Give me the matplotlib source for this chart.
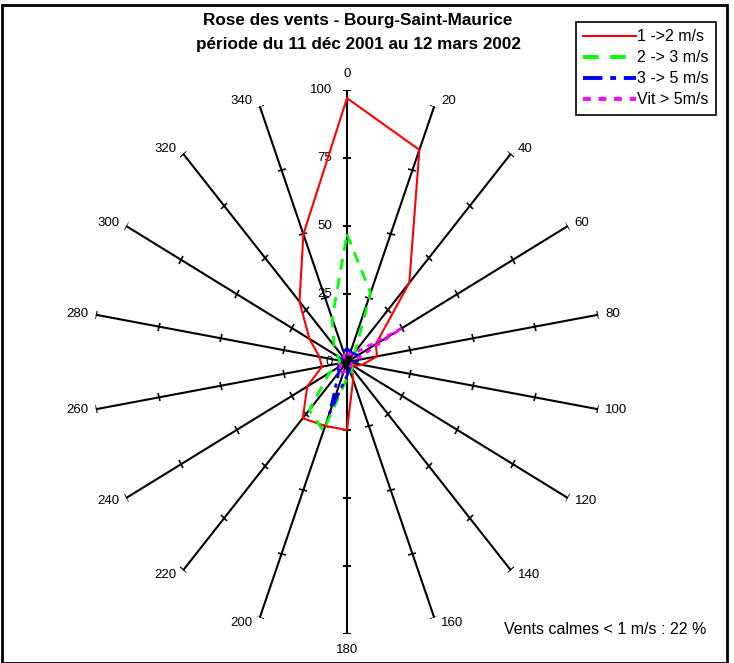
import numpy as np
import matplotlib
matplotlib.use('Agg')
from matplotlib import pyplot as plt
from matplotlib.markers import MarkerStyle
from matplotlib.transforms import Affine2D
from matplotlib.patches import Rectangle

plt.rcParams['font.family'] = ['Liberation Sans', 'DejaVu Sans']

# directions (degrees, clockwise from north)
directions = [0, 20, 40, 60, 80, 100, 120, 140, 160, 180, 200, 220, 240, 260, 280, 300, 320, 340]

# frequency per speed class
v_1_2 = [97, 83, 38, 13, 12, 6, 3, 3, 7, 25, 25, 27, 18, 10, 11, 17, 29, 50]
v_2_3 = [47, 27, 5, 3, 3, 2, 2, 3, 5, 6, 27, 23, 8, 3, 3, 4, 8, 17]
v_3_5 = [5, 4, 4, 5, 5, 3, 2, 2, 3, 5, 20, 5, 4, 3, 3, 2, 3, 4]
v_5 = [3, 3, 4, 25, 3, 2, 2, 2, 2, 3, 4, 5, 3, 2, 2, 2, 2, 3]

labels = ['1 ->2 m/s', '2 -> 3 m/s', '3 -> 5 m/s', 'Vit > 5m/s']
radial_ticks = [0, 25, 50, 75, 100]

W, H = 734, 663
fig = plt.figure(figsize=(W / 100, H / 100), dpi=100)

# polar area: centre at (347, 362) px, radius 255 px across, 272 px up/down
cx, cy, rx, ry = 347, 362, 255, 272
ax = fig.add_axes([(cx - rx) / W, (H - cy - ry) / H, 2 * rx / W, 2 * ry / H], projection='polar')
ax.set_aspect('auto')
ax.set_theta_zero_location('N')
ax.set_theta_direction(-1)
ax.set_ylim(0, 100)
ax.grid(False)
ax.set_xticks([])
ax.set_yticks([])
ax.spines['polar'].set_visible(False)
ax.patch.set_visible(False)

th = np.deg2rad(directions)

# spokes with tick marks
for d, t in zip(directions, th):
    ax.plot([t, t], [0, 100], color='black', lw=1.5, zorder=1)
    mk = MarkerStyle('_', transform=Affine2D().rotate_deg(-d))
    ax.plot([t] * 4, [25, 50, 75, 100], ls='none', marker=mk, ms=6, mew=1.2, color='black', zorder=1)
    sa = np.sin(t)
    ca = np.cos(t)
    if abs(sa) < 0.1:
        ax.annotate(str(d), xy=(t, 100), xytext=(0, 7 * np.sign(ca)), textcoords='offset points',
                    ha='center', va='bottom' if ca > 0 else 'top', fontsize=9.5, annotation_clip=False)
    else:
        ax.annotate(str(d), xy=(t, 100), xytext=(5 * np.sign(sa), 4 * ca), textcoords='offset points',
                    ha='left' if sa > 0 else 'right', va='center', fontsize=9.5, annotation_clip=False)

for r in radial_ticks:
    ax.annotate(str(r), xy=(0, r), xytext=(-10.5, 0), textcoords='offset points',
                ha='right', va='center', fontsize=9.5, annotation_clip=False)

tc = np.append(th, th[0])
def closed(v):
    return np.append(v, v[0])

l1, = ax.plot(tc, closed(v_1_2), color='#ff0000', lw=1.5, zorder=3)
l2, = ax.plot(tc, closed(v_2_3), color='#00ff00', lw=2, ls=(0, (4, 3)), zorder=4)
l3, = ax.plot(tc, closed(v_3_5), color='#0000ff', lw=2, ls=(0, (5, 2, 1.5, 2)), zorder=5)
l4, = ax.plot(tc, closed(v_5), color='#ff00ff', lw=2, ls=(0, (2, 2)), zorder=6)

fig.text(358 / W, 1 - 20 / H, 'Rose des vents - Bourg-Saint-Maurice', ha='center', va='center',
         fontsize=12.3, fontweight='bold')
fig.text(358 / W, 1 - 44 / H, 'période du 11 déc 2001 au 12 mars 2002', ha='center', va='center',
         fontsize=12.3, fontweight='bold')
fig.text(605 / W, 1 - 630 / H, 'Vents calmes < 1 m/s : 22 %', ha='center', va='center', fontsize=11.5)

leg = fig.legend([l1, l2, l3, l4], labels, loc='upper right', bbox_to_anchor=(716 / W, 1 - 22 / H),
                 fontsize=11.5, frameon=True, fancybox=False, edgecolor='black', framealpha=1,
                 handlelength=3.3, handletextpad=0.1, labelspacing=0.38, borderpad=0.45, borderaxespad=0)
leg.get_frame().set_linewidth(1.2)
for h in leg.get_lines()[1:]:
    h.set_linewidth(2.8)

# chart area border
fig.patches.append(Rectangle((2 / W, 0), 725 / W, 1 - 5 / H, transform=fig.transFigure,
                             fill=False, edgecolor='black', lw=2))

fig.savefig('out.png', dpi=100)
